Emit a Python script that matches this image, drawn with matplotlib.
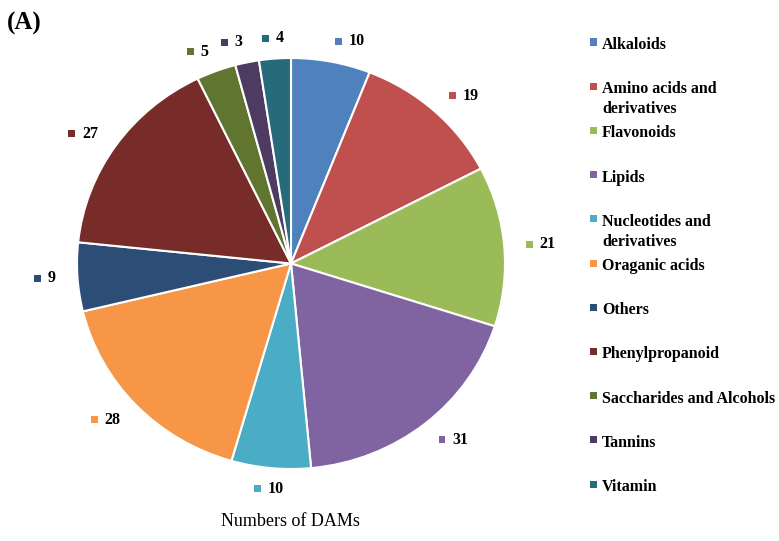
import numpy as np
import matplotlib.pyplot as plt
from matplotlib.patches import Rectangle
from matplotlib.offsetbox import AnnotationBbox, DrawingArea, TextArea, HPacker

# data
categories = ['Alkaloids', 'Amino acids and\nderivatives', 'Flavonoids', 'Lipids',
              'Nucleotides and\nderivatives', 'Oraganic acids', 'Others',
              'Phenylpropanoid', 'Saccharides and Alcohols', 'Tannins', 'Vitamin']
counts = [10, 19, 21, 31, 10, 28, 9, 27, 5, 3, 4]
colors = ['#4F81BD', '#C0504D', '#9BBB59', '#8064A2', '#4BACC6', '#F79646',
          '#2C4D75', '#772C2A', '#5F7530', '#4D3B62', '#276A7C']

W, H = 779, 541
serif = ['Liberation Serif', 'DejaVu Serif']

fig = plt.figure(figsize=(W / 100, H / 100), dpi=100)

# pie centre ~ (291, 263.5) px, radii ~214 x 205.5 px
cx, cy, rx, ry = 291, 263.5, 214, 205.5
ax = fig.add_axes([(cx - rx) / W, (H - cy - ry) / H, 2 * rx / W, 2 * ry / H])
wedges, _ = ax.pie(counts, colors=colors, startangle=90, counterclock=False,
                   wedgeprops=dict(edgecolor='white', linewidth=1.5))
ax.set_aspect('auto')
ax.set_xlim(-1, 1)
ax.set_ylim(-1, 1)

# data labels: small coloured square + bold number, outside each slice
for w, n, c in zip(wedges, counts, colors):
    ang = np.deg2rad((w.theta1 + w.theta2) / 2)
    x, y = 1.1 * np.cos(ang), 1.1 * np.sin(ang)
    if np.cos(ang) > 0.15:
        bx = 0
    elif np.cos(ang) < -0.15:
        bx = 1
    else:
        bx = 0.5
    da = DrawingArea(5, 5, 0, 0)
    da.add_artist(Rectangle((0, 0), 5, 5, facecolor=c, edgecolor='none'))
    txt = TextArea(str(n), textprops=dict(family=serif, weight='bold', fontsize=11.5))
    box = HPacker(children=[da, txt], align='center', pad=0, sep=5)
    ab = AnnotationBbox(box, (x, y), box_alignment=(bx, 0.5), frameon=False,
                        annotation_clip=False)
    ax.add_artist(ab)

# legend drawn by hand, entries evenly spaced by their first line
y0, step = 42, 44.2
for i, (lab, c) in enumerate(zip(categories, colors)):
    yc = y0 + i * step
    fig.add_artist(Rectangle((589.5 / W, 1 - (yc + 3.5) / H), 7 / W, 7 / H,
                             transform=fig.transFigure, facecolor=c, edgecolor='none'))
    fig.text(602 / W, 1 - (yc - 5) / H, lab, family=serif, weight='bold',
             fontsize=11.5, va='top', ha='left', linespacing=1.35)

fig.text(7 / W, 1 - 23 / H, '(A)', family=serif, weight='bold', fontsize=18,
         va='center', ha='left')
fig.text(290 / W, 1 - 522 / H, 'Numbers of DAMs', family=serif, fontsize=13,
         va='center', ha='center')

fig.savefig('out.png', dpi=100)
